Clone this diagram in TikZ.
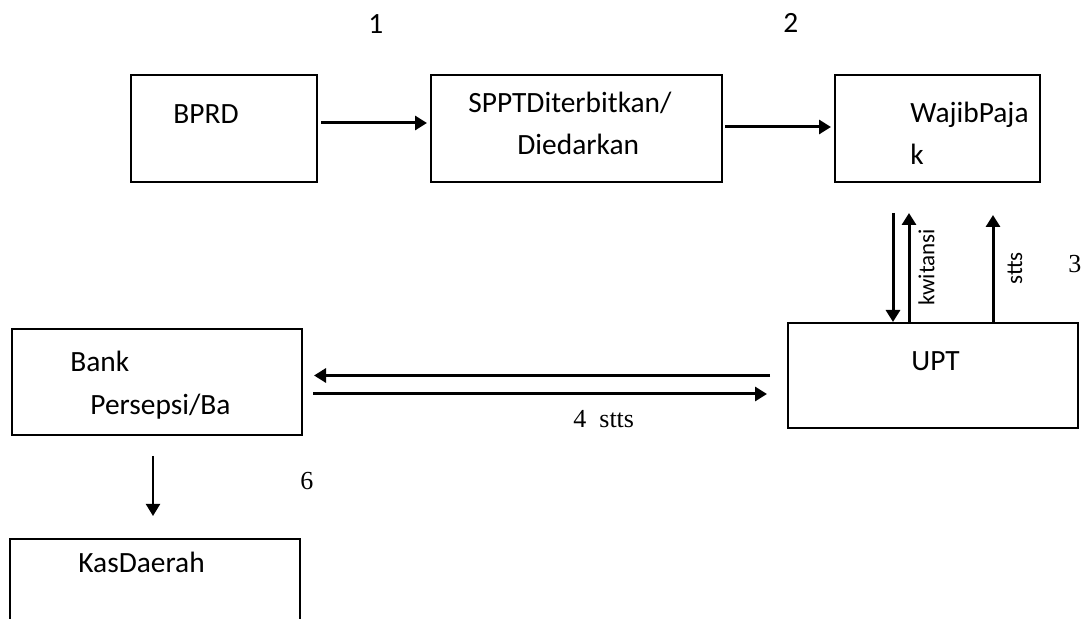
\documentclass[tikz,border=0pt]{standalone}
\usepackage{fontspec}
\setmainfont{Carlito}
\newfontfamily\romanfont{Liberation Serif}
\usepackage{tikz}
\usetikzlibrary{arrows.meta}

\tikzset{
	box/.style={draw, line width=1pt, inner sep=0pt},
	arr/.style={-{Triangle[length=6pt,width=7pt]}, line width=1.5pt},
	txt/.style={anchor=base west, inner sep=0pt, font=\fontsize{14.7}{17}\selectfont},
	num/.style={anchor=base west, inner sep=0pt, font=\romanfont\fontsize{13}{15}\selectfont},
	side/.style={rotate=90, below, font=\fontsize{11.5}{14}\selectfont}
}

\begin{document}
\begin{tikzpicture}[x=0.5pt, y=-0.5pt]

\useasboundingbox (0,0) rectangle (1082,619);
\clip (0,0) rectangle (1082,619);

% boxes
\node[box, minimum width=93pt, minimum height=53.5pt] (bprd) at (224,128.5) {};
\node[box, minimum width=145.5pt, minimum height=53.5pt] (sppt) at (576.5,128.5) {};
\node[box, minimum width=102.5pt, minimum height=53.5pt] (wajib) at (937.5,128.5) {};
\node[box, minimum width=145pt, minimum height=52.5pt] (upt) at (933,375.5) {};
\node[box, minimum width=145pt, minimum height=53pt] (bank) at (157,382) {};
\node[box, minimum width=145pt, minimum height=55pt] (kas) at (155,594) {};

% texts in the boxes
\node[txt] (t-bprd) at (173,124) {BPRD};
\node[txt] (t-sppt1) at (468,113) {SPPTDiterbitkan/};
\node[txt] (t-sppt2) at (517,155) {Diedarkan};
\node[txt] (t-wajib1) at (910,123) {WajibPaja};
\node[txt] (t-wajib2) at (910,165) {k};
\node[txt] (t-upt) at (911,371) {UPT};
\node[txt] (t-bank1) at (70,372) {Bank};
\node[txt] (t-bank2) at (90,415) {Persepsi/Ba};
\node[txt] (t-kas) at (78,573) {KasDaerah};

% step numbers
\node[txt] (n1) at (368,34) {1};
\node[txt] (n2) at (783,33) {2};
\node[num] (n3) at (1068,273) {3};
\node[num] (n4) at (573,428) {4~~stts};
\node[num] (n6) at (300,490) {6};

% top row
\draw[arr, shorten <=1.5pt, shorten >=1.5pt] ([yshift=2.75pt]bprd.east) -- ([yshift=2.75pt]sppt.west);
\draw[arr, shorten <=1pt, shorten >=1.5pt] ([yshift=0.75pt]sppt.east) -- ([yshift=0.75pt]wajib.west);

% between wajib pajak and UPT
\coordinate (d1) at (893,213);
\coordinate (u1) at (909,213);
\coordinate (u2) at (993,215);
\draw[arr] (d1) -- (d1 |- upt.north);
\draw[arr] (u1 |- upt.north) -- (u1) node[midway, side, inner sep=4pt] (l-kw) {kwitansi};
\draw[arr] (u2 |- upt.north) -- (u2) node[midway, side, inner sep=6.5pt] (l-st) {stts};

% between UPT and bank
\coordinate (b1) at ([yshift=-6pt]bank.east);
\draw[arr, shorten <=8.5pt, shorten >=5.5pt] (upt.west) -- (upt.west -| bank.east);
\draw[arr, shorten <=5pt, shorten >=10pt] (b1) -- (b1 -| upt.west);

% bank to kas daerah
\coordinate (b2) at ([xshift=-2pt]bank.south);
\draw[arr, line width=1pt, shorten <=10pt, shorten >=11pt] (b2) -- (b2 |- kas.north);

\end{tikzpicture}
\end{document}
